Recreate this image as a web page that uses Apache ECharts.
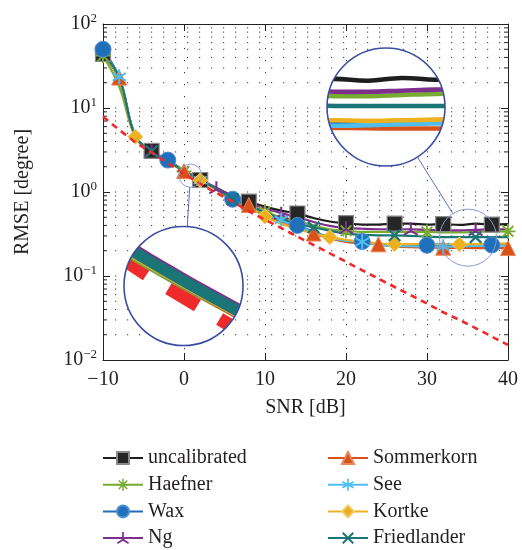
<!DOCTYPE html>
<html><head><meta charset="utf-8">
<script src="https://cdn.jsdelivr.net/npm/echarts@6/dist/echarts.min.js"></script>
<style>html,body{margin:0;padding:0;background:#fff}#c{width:522px;height:550px}</style>
</head><body><div id="c"></div>
<script>
// ---------------- data ----------------
const snr = [-10,-8,-6,-4,-2,0,2,4,6,8,10,12,14,16,18,20,22,24,26,28,30,32,34,36,38,40];
const uncalibrated = [44,22,4.6,3.08,2.38,1.79,1.39,1.12,0.9,0.77,0.67,0.6,0.555,0.49,0.445,0.425,0.41,0.41,0.42,0.42,0.41,0.415,0.405,0.42,0.41,0.415];
const haefner      = [42,18,4.5,3.0,2.3,1.75,1.37,1.1,0.86,0.71,0.58,0.5,0.45,0.4,0.36,0.345,0.335,0.335,0.335,0.335,0.335,0.33,0.33,0.335,0.34,0.34];
const wax          = [50,23,4.6,3.05,2.4,1.77,1.38,1.08,0.82,0.67,0.53,0.45,0.4,0.335,0.29,0.265,0.257,0.24,0.233,0.23,0.232,0.23,0.232,0.232,0.234,0.233];
const ng           = [44,23,4.6,3.1,2.38,1.8,1.4,1.12,0.88,0.74,0.64,0.56,0.5,0.44,0.395,0.375,0.365,0.36,0.36,0.36,0.355,0.35,0.35,0.355,0.36,0.36];
const sommerkorn   = [45,23,4.6,3.05,2.35,1.77,1.37,1.06,0.8,0.7,0.52,0.43,0.37,0.32,0.28,0.255,0.245,0.238,0.225,0.22,0.218,0.217,0.216,0.215,0.215,0.215];
const see          = [45,23.5,4.6,3.05,2.35,1.77,1.38,1.08,0.8,0.66,0.54,0.465,0.39,0.33,0.285,0.262,0.255,0.235,0.228,0.226,0.225,0.223,0.225,0.228,0.23,0.23];
const kortke       = [45,22,4.55,3.0,2.32,1.77,1.38,1.08,0.8,0.67,0.51,0.42,0.36,0.32,0.29,0.27,0.255,0.245,0.24,0.24,0.24,0.24,0.238,0.24,0.242,0.245];
const friedlander  = [45,23,4.6,3.05,2.35,1.78,1.385,1.1,0.82,0.7,0.57,0.48,0.42,0.38,0.345,0.32,0.31,0.305,0.305,0.3,0.295,0.29,0.29,0.29,0.29,0.29];
const crb          = [7.87,5.5,3.9,2.95,2.2,1.64,1.255,0.975,0.77,0.59,0.468,0.372,0.295,0.234,0.186,0.148,0.117,0.093,0.074,0.059,0.047,0.037,0.03,0.024,0.019,0.0151];

// marker positions (dB) for each series
const markUncal = [-10,-4,2,8,14,20,26,32,38];
const markHaef  = [-10,0,10,20,30,40];
const markWax   = [-10,-2,6,14,22,30,38];
const markNg    = [-4,4,12,20,28,36];
const markSom   = [-8,0,8,16,24,32,40];
const markSee   = [-8,2,12,22,32];
const markKor   = [-6,2,10,18,26,34];
const markFri   = [-4,6,16,26,36];

const xTicks = [-10,0,10,20,30,40];
const yTicks = [0.01,0.1,1,10,100];
const yGridValues = [0.02,0.03,0.04,0.05,0.06,0.07,0.08,0.09,0.1,0.2,0.3,0.4,0.5,0.6,0.7,0.8,0.9,1,2,3,4,5,6,7,8,9,10,20,30,40,50,60,70,80,90];

const legendCol1 = ['uncalibrated','Haefner','Wax','Ng'];
const legendCol2 = ['Sommerkorn','See','Kortke','Friedlander'];

// ---------------- styling helpers ----------------
const FONT = '"Liberation Serif","DejaVu Serif",serif';
const TXT = '#231f20';
function seg(x1,y1,x2,y2,t){
  const dx=x2-x1, dy=y2-y1, L=Math.hypot(dx,dy), nx=-dy/L*t/2, ny=dx/L*t/2;
  const f=v=>v.toFixed(3);
  return 'M'+f(x1+nx)+' '+f(y1+ny)+'L'+f(x2+nx)+' '+f(y2+ny)+'L'+f(x2-nx)+' '+f(y2-ny)+'L'+f(x1-nx)+' '+f(y1-ny)+'Z';
}
function star(angles, len, t){
  return 'path://' + angles.map(a=>{const r=a*Math.PI/180, c=Math.cos(r)*len, s=Math.sin(r)*len; return seg(10-c,10-s,10+c,10+s,t);}).join('');
}
function tri(t){
  return 'path://' + [90,210,330].map(a=>{const r=a*Math.PI/180; return seg(10,10,10+Math.cos(r)*10,10-Math.sin(r)*10,t);}).join('');
}
const SYM_AST8 = star([0,45,90,135],10,2.6);
const SYM_AST6 = star([90,30,150],10,2.6);
const SYM_X    = star([45,135],10,2.8);
const SYM_TRI  = tri(2.6);

function mk(name, vals, marks, color, symbol, size, item, z){
  return {
    name, type:'line', z: z||2,
    data: snr.map((x,i)=> marks.includes(x) ? [x, vals[i]] : {value:[x, vals[i]], symbol:'none'}),
    smooth: 0.4, symbol, symbolSize: size, symbolKeepAspect: true, showSymbol: true, showAllSymbol: true,
    lineStyle:{color, width:2.2},
    itemStyle: Object.assign({color, opacity:1}, item||{}),
    emphasis:{disabled:true}, animation:false
  };
}

const chart = echarts.init(document.getElementById('c'), null, {renderer:'canvas', width:522, height:550});
const G = {left:103, top:24, width:405, height:336};

const axisCommon = {
  min:-10, max:40, interval:10,
  axisLine:{show:true, onZero:false, lineStyle:{color:'#222', width:1}},
  axisTick:{show:true, inside:true, length:7, lineStyle:{color:'#222'}},
};
const legendCommon = {orient:'vertical', top:448, height:110, padding:0, itemWidth:40, itemHeight:15, itemGap:6.7,
  textStyle:{fontFamily:FONT, fontSize:20, color:TXT, lineHeight:20}, selectedMode:false};

const option = {
  animation:false,
  backgroundColor:'#fff',
  grid: G,
  legend: [
    Object.assign({data:legendCol1, left:102}, legendCommon),
    Object.assign({data:legendCol2, left:327}, legendCommon)
  ],
  xAxis: [
    Object.assign({type:'value', position:'bottom',
      name:'SNR [dB]', nameLocation:'middle', nameGap:38,
      nameTextStyle:{fontFamily:FONT, fontSize:20, color:TXT},
      axisLabel:{fontFamily:FONT, fontSize:20, color:TXT, margin:10, formatter:v=>String(v).replace('-','\u2212')},
      splitLine:{show:true, lineStyle:{color:'#333', width:1, type:[1.2,10.8]}}
    }, axisCommon),
    Object.assign({type:'value', position:'top', axisLabel:{show:false}, splitLine:{show:false}}, axisCommon)
  ],
  yAxis: [
    {type:'log', logBase:10, min:0.01, max:100, position:'left',
     name:'RMSE [degree]', nameLocation:'middle', nameGap:70,
     nameTextStyle:{fontFamily:FONT, fontSize:20, color:TXT},
     axisLine:{show:true, onZero:false, lineStyle:{color:'#222'}},
     axisTick:{show:true, inside:true, length:7, lineStyle:{color:'#222'}},
     splitLine:{show:false},
     axisLabel:{margin:6, color:TXT,
       formatter:v=>{const e=Math.round(Math.log10(v)); return '{b|10}{s|'+(e<0?'\u2212'+(-e):e)+'}';},
       rich:{b:{fontFamily:FONT, fontSize:20, color:TXT}, s:{fontFamily:FONT, fontSize:13, color:TXT, padding:[0,0,11,0]}}}
    },
    {type:'log', logBase:10, min:0.01, max:100, position:'right',
     axisLine:{show:true, onZero:false, lineStyle:{color:'#222'}},
     axisTick:{show:true, inside:true, length:7, lineStyle:{color:'#222'}},
     axisLabel:{show:false}, splitLine:{show:false}}
  ],
  series: [
    {type:'custom', name:'grid', silent:true, z:1, xAxisIndex:0, yAxisIndex:0,
     data: yGridValues.map(v=>[-10, v]), encode:{x:0, y:1}, animation:false,
     renderItem:(params, api)=>{
       const v = api.value(1);
       const p1 = api.coord([-10, v]), p2 = api.coord([40, v]);
       const major = yTicks.includes(v);
       const ch = [{type:'line', shape:{x1:p1[0], y1:p1[1], x2:p2[0], y2:p2[1]}, style:{stroke:'#333', lineWidth:1, lineDash:[1.2,10.8]}}];
       if(!major){
         ch.push({type:'line', shape:{x1:p1[0], y1:p1[1], x2:p1[0]+4, y2:p1[1]}, style:{stroke:'#222', lineWidth:1}});
         ch.push({type:'line', shape:{x1:p2[0]-4, y1:p2[1], x2:p2[0], y2:p2[1]}, style:{stroke:'#222', lineWidth:1}});
       }
       return {type:'group', children:ch};
     }},
    mk('uncalibrated', uncalibrated, markUncal, '#1e1e1e', 'rect', 15, {color:'#262626', borderColor:'#8a8a8a', borderWidth:1.2}),
    mk('Haefner', haefner, markHaef, '#77AC30', SYM_AST8, 15),
    mk('Wax', wax, markWax, '#1f6fba', 'circle', 16, {borderColor:'#4d8fd0', borderWidth:1}),
    mk('Ng', ng, markNg, '#7E2F8E', SYM_TRI, 15),
    mk('Sommerkorn', sommerkorn, markSom, '#D95319', 'triangle', 15, {borderColor:'#e8855a', borderWidth:1}),
    mk('See', see, markSee, '#4DBEEE', SYM_AST6, 15),
    mk('Kortke', kortke, markKor, '#EDB120', 'diamond', 15, {borderColor:'#f3cb6a', borderWidth:1}),
    mk('Friedlander', friedlander, markFri, '#1a7676', SYM_X, 13),
    {name:'CRB', type:'line', data: snr.map((x,i)=>[x, crb[i]]), symbol:'none', z:3,
     lineStyle:{color:'#EE2A2A', width:2.6, type:[6.5,5]}, emphasis:{disabled:true}, animation:false}
  ]
};
chart.setOption(option);

// ---------------- magnifier insets ----------------
const seriesForInset = [
  [uncalibrated,'#1e1e1e'],[haefner,'#77AC30'],[wax,'#1f6fba'],[ng,'#7E2F8E'],
  [sommerkorn,'#D95319'],[see,'#4DBEEE'],[kortke,'#EDB120'],[friedlander,'#1a7676']
];
const zr = chart.getZr();
function addInset(lensVal, lensR, cx, cy, R){
  const lc = chart.convertToPixel({gridIndex:0}, lensVal);
  const M = R / lensR;
  const tf = p => [cx + M*(p[0]-lc[0]), cy + M*(p[1]-lc[1])];
  zr.add(new echarts.graphic.Circle({shape:{cx, cy, r:R}, style:{fill:'#fff', stroke:null}, z:100, silent:true}));
  const g = new echarts.graphic.Group();
  g.setClipPath(new echarts.graphic.Circle({shape:{cx, cy, r:R}}));
  const cpts = snr.map((x,i)=>tf(chart.convertToPixel({gridIndex:0},[x, crb[i]])));
  g.add(new echarts.graphic.Polyline({shape:{points:cpts}, style:{stroke:'#EE2A2A', lineWidth:2.6*M, fill:null, lineDash:[6.5*M,5*M], lineCap:'butt'}, z:101, silent:true}));
  seriesForInset.forEach(([vals,color])=>{
    const pts = snr.map((x,i)=>tf(chart.convertToPixel({gridIndex:0},[x, vals[i]])));
    g.add(new echarts.graphic.Polyline({shape:{points:pts, smooth:0.4}, style:{stroke:color, lineWidth:2.2*M, fill:null, lineCap:'butt'}, z:102, silent:true}));
  });
  zr.add(g);
  zr.add(new echarts.graphic.Circle({shape:{cx, cy, r:R}, style:{fill:null, stroke:'#3a4da0', lineWidth:1.6}, z:103, silent:true}));
  zr.add(new echarts.graphic.Circle({shape:{cx:lc[0], cy:lc[1], r:lensR}, style:{fill:null, stroke:'#8a9ad6', lineWidth:1}, z:103, silent:true}));
  const dx = cx-lc[0], dy = cy-lc[1], L = Math.hypot(dx,dy), ux = dx/L, uy = dy/L;
  zr.add(new echarts.graphic.Line({shape:{x1:lc[0]+ux*lensR, y1:lc[1]+uy*lensR, x2:cx-ux*R, y2:cy-uy*R}, style:{stroke:'#5c6fc0', lineWidth:1}, z:103, silent:true}));
}
addInset([0.8, 1.563], 11.5, 183.5, 286, 59.5);
addInset([35.06, 0.286], 28.5, 386, 107, 59);
</script>
</body></html>
